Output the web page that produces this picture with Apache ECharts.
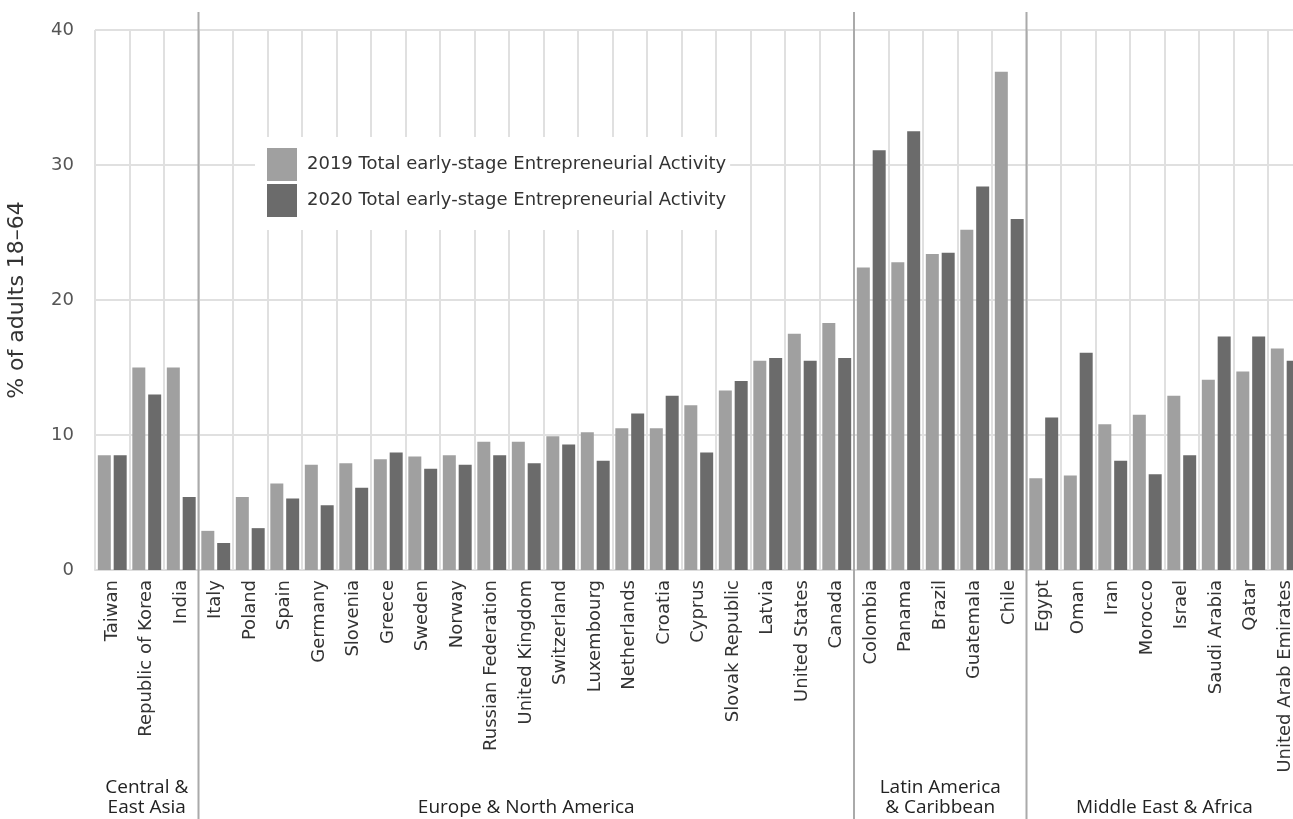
<!DOCTYPE html>
<html>
<head>
<meta charset="utf-8">
<script src="https://cdn.jsdelivr.net/npm/echarts@6/dist/echarts.min.js"></script>
<style>
html,body{margin:0;padding:0;background:#fff;}
#main{width:1293px;height:819px;}
</style>
</head>
<body>
<div id="main"></div>
<script>
const categories = ["Taiwan","Republic of Korea","India","Italy","Poland","Spain","Germany","Slovenia","Greece","Sweden","Norway","Russian Federation","United Kingdom","Switzerland","Luxembourg","Netherlands","Croatia","Cyprus","Slovak Republic","Latvia","United States","Canada","Colombia","Panama","Brazil","Guatemala","Chile","Egypt","Oman","Iran","Morocco","Israel","Saudi Arabia","Qatar","United Arab Emirates"];
const tea2019 = [8.5,15.0,15.0,2.9,5.4,6.4,7.8,7.9,8.2,8.4,8.5,9.5,9.5,9.9,10.2,10.5,10.5,12.2,13.3,15.5,17.5,18.3,22.4,22.8,23.4,25.2,36.9,6.8,7.0,10.8,11.5,12.9,14.1,14.7,16.4];
const tea2020 = [8.5,13.0,5.4,2.0,3.1,5.3,4.8,6.1,8.7,7.5,7.8,8.5,7.9,9.3,8.1,11.6,12.9,8.7,14.0,15.7,15.5,15.7,31.1,32.5,23.5,28.4,26.0,11.3,16.1,8.1,7.1,8.5,17.3,17.3,15.5];
const seriesNames = ["2019 Total early-stage Entrepreneurial Activity","2020 Total early-stage Entrepreneurial Activity"];
const groupNames = ["Central &\nEast Asia","Europe & North America","Latin America\n& Caribbean","Middle East & Africa"];
const groupSizes = [3,19,5,8];
const yTicks = [0,10,20,30,40];
const yAxisName = "% of adults 18–64";

const chart = echarts.init(document.getElementById('main'));
const FONT = 'DejaVu Sans';
chart.setOption({
  animation:false,
  textStyle:{fontFamily:FONT},
  grid:{left:95, top:30, width:1207.5, bottom:249, containLabel:false, outerBoundsMode:'none'},
  legend:{
    orient:'vertical', left:255, top:137,
    padding:[11,4,13,12], itemGap:3,
    itemWidth:30, itemHeight:33, icon:'rect',
    backgroundColor:'#fff',
    textStyle:{fontSize:18,color:'#333',fontFamily:FONT,padding:[0,0,0,5]},
    data:seriesNames
  },
  xAxis:{
    type:'category', data:categories,
    axisLine:{show:true, lineStyle:{color:'#ddd', width:2}},
    axisTick:{show:false},
    splitLine:{show:true, interval:0, lineStyle:{color:'#e0e0e0', width:2}},
    axisLabel:{interval:0, rotate:90, margin:10, fontSize:18, color:'#333', fontFamily:FONT}
  },
  yAxis:{
    type:'value', min:yTicks[0], max:yTicks[yTicks.length-1], interval:10,
    name:yAxisName, nameLocation:'middle', nameGap:67,
    nameTextStyle:{fontSize:22,color:'#333',fontFamily:FONT},
    axisLine:{show:false}, axisTick:{show:false},
    axisLabel:{fontSize:18,color:'#555',margin:21,fontFamily:FONT},
    splitLine:{lineStyle:{color:'#e0e0e0', width:2}}
  },
  series:[
    {name:seriesNames[0], type:'bar', data:tea2019, barWidth:13, barGap:'22%', itemStyle:{color:'#a0a0a0'}},
    {name:seriesNames[1], type:'bar', data:tea2020, barWidth:13, barGap:'22%', itemStyle:{color:'#6b6b6b'}}
  ]
});

// group separators and group labels from the axis scale
const p0 = chart.convertToPixel({xAxisIndex:0}, 0);
const p1 = chart.convertToPixel({xAxisIndex:0}, 1);
const band = p1 - p0;
const boundary = k => p0 + (k - 0.5) * band;
const elements = [];
let start = 0;
groupSizes.forEach((n, gi) => {
  const end = start + n;
  if (gi > 0) {
    elements.push({type:'line', z:10, shape:{x1:boundary(start), y1:12, x2:boundary(start), y2:819},
      style:{stroke:'#aaa', lineWidth:2}});
  }
  const cx = (boundary(start) + boundary(end)) / 2;
  elements.push({type:'text', z:10, x:cx, y:818,
    style:{text:groupNames[gi], align:'center', verticalAlign:'bottom', fontSize:19, lineHeight:20,
      fill:'#222', fontFamily:'Open Sans'}});
  start = end;
});
chart.setOption({graphic:{elements}});
</script>
</body>
</html>
